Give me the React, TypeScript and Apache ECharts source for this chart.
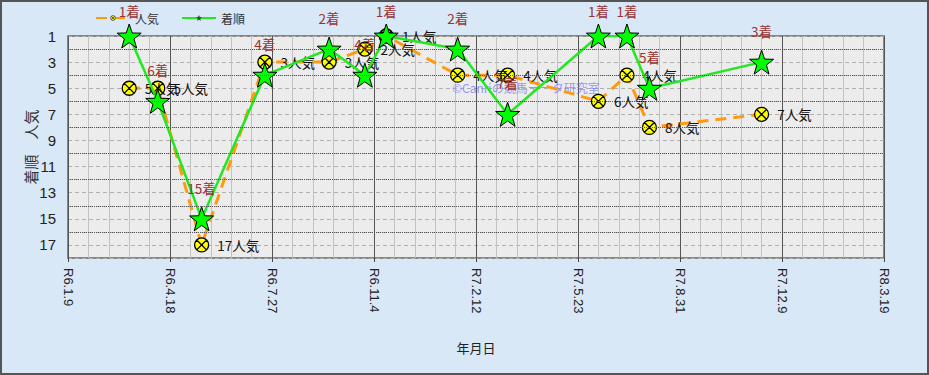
import React, { useEffect, useRef } from "react";
import * as echarts from "echarts";

// ---- data ----
const originDate = "2024-01-09";
const raceDates = [
  "2024-03-09", "2024-04-06", "2024-05-19", "2024-07-20", "2024-09-21",
  "2024-10-26", "2024-11-16", "2025-01-25", "2025-03-15", "2025-06-12",
  "2025-07-10", "2025-08-01", "2025-11-19",
];
const popularity = [5, 5, 17, 3, 3, 2, 1, 4, 4, 6, 4, 8, 7];
const finish = [1, 6, 15, 4, 2, 4, 1, 2, 7, 1, 1, 5, 3];
const xTickLabels = [
  "R6.1.9", "R6.4.18", "R6.7.27", "R6.11.4", "R7.2.12",
  "R7.5.23", "R7.8.31", "R7.12.9", "R8.3.19",
];
const majorHLines = [2, 4, 6, 8, 10, 12, 14, 16];

const JP = '"Noto Sans CJK JP", "Noto Sans", sans-serif';
const LAT = '"Liberation Sans", Arial, sans-serif';

const STAR =
  "path://M0,-10 L2.35,-3.24 L9.51,-3.09 L3.8,1.24 L5.88,8.09 L0,4 L-5.88,8.09 L-3.8,1.24 L-9.51,-3.09 L-2.35,-3.24 Z";
const CIRCLE_X =
  "path://M0,-10 A10,10 0 1,1 0,10 A10,10 0 1,1 0,-10 Z M-7,-7 L7,7 M7,-7 L-7,7";

const dayOf = (d: string) =>
  Math.round((Date.parse(d) - Date.parse(originDate)) / 86400000);

export default function App() {
  const ref = useRef<HTMLDivElement>(null);
  useEffect(() => {
    document.body.style.margin = "0";
    if (!ref.current) return;
    const chart = echarts.init(ref.current, undefined, { renderer: "svg" });
    const days = raceDates.map(dayOf);
    chart.setOption({
      animation: false,
      backgroundColor: "#d9e8f7",
      textStyle: { fontFamily: JP },
      graphic: [
        {
          type: "rect",
          shape: { x: 1, y: 1, width: 927, height: 373 },
          style: { fill: "none", stroke: "#555", lineWidth: 2 },
          silent: true,
          z: 100,
        },
        {
          type: "text",
          left: 452,
          top: 81,
          z: 1,
          silent: true,
          style: {
            text: "©Canriの競馬データ研究室",
            fill: "rgba(110,110,255,0.7)",
            font: `12px ${JP}`,
          },
        },
      ],
      legend: {
        left: 90,
        top: 7,
        itemWidth: 34,
        itemHeight: 6,
        itemGap: 22,
        textStyle: { fontSize: 12, color: "#333", fontFamily: JP },
        data: [
          {
            name: "人気",
            itemStyle: { color: "#ffff00", borderColor: "#444", borderWidth: 0.8 },
          },
          {
            name: "着順",
            itemStyle: { color: "#224422", borderColor: "#224422", borderWidth: 0.5 },
          },
        ],
      },
      grid: {
        left: 68,
        right: 45,
        top: 36,
        bottom: 117,
        show: true,
        backgroundColor: "#ececec",
        borderColor: "#666",
        borderWidth: 1.5,
      },
      xAxis: {
        type: "value",
        min: 0,
        max: 800,
        interval: 100,
        name: "年月日",
        nameLocation: "middle",
        nameGap: 83,
        nameMoveOverlap: false,
        nameTextStyle: { fontSize: 13, color: "#222", fontFamily: JP },
        axisLine: { show: false },
        axisTick: { show: true, length: 4, lineStyle: { color: "#444" } },
        axisLabel: {
          rotate: -90,
          margin: 10,
          fontSize: 13,
          color: "#222",
          fontFamily: LAT,
          formatter: (v: number) => xTickLabels[Math.round(v / 100)] ?? "",
        },
        splitLine: { show: true, lineStyle: { color: "#555", width: 1 } },
        minorTick: { show: false, splitNumber: 5 },
        minorSplitLine: { show: true, lineStyle: { color: "#c2c2c2", width: 1 } },
      },
      yAxis: {
        type: "value",
        inverse: true,
        min: 1,
        max: 18,
        interval: 1,
        name: "着順　人気",
        nameLocation: "middle",
        nameGap: 30,
        nameMoveOverlap: false,
        nameRotate: 90,
        nameTextStyle: { fontSize: 15, color: "#333", fontFamily: JP },
        axisLine: { show: false },
        axisTick: { show: false },
        axisLabel: {
          margin: 12,
          fontSize: 15,
          color: "#222",
          fontFamily: LAT,
          formatter: (v: number) => (v % 2 === 1 && v <= 17 ? String(v) : ""),
        },
        splitLine: {
          show: true,
          lineStyle: { color: "#b0b0b0", type: [4, 3], width: 1 },
        },
      },
      series: [
        {
          name: "人気",
          type: "line",
          z: 2,
          data: days.map((d, i) => [d, popularity[i]]),
          symbol: CIRCLE_X,
          symbolSize: 14,
          lineStyle: { color: "#ff9a10", width: 3, type: [11, 7] },
          itemStyle: { color: "#ffff00", borderColor: "#000", borderWidth: 1.3 },
          label: {
            show: true,
            position: "right",
            distance: 8,
            fontSize: 13.5,
            color: "#111",
            fontFamily: JP,
            formatter: (p: any) => `${p.value[1]}人気`,
          },
          markLine: {
            silent: true,
            symbol: ["none", "none"],
            label: { show: false },
            lineStyle: { color: "#555", type: "dotted", width: 1 },
            data: majorHLines.map((v) => ({ yAxis: v })),
          },
        },
        {
          name: "着順",
          type: "line",
          z: 3,
          data: days.map((d, i) => ({
            value: [d, finish[i]],
            label: { distance: finish[i] === 1 ? 6 : 12 },
          })),
          symbol: STAR,
          symbolSize: 24,
          lineStyle: { color: "#22e822", width: 2.5 },
          itemStyle: { color: "#00ff00", borderColor: "#000", borderWidth: 1 },
          label: {
            show: true,
            position: "top",
            fontSize: 13.5,
            color: "#993333",
            fontFamily: JP,
            formatter: (p: any) => `${p.value[1]}着`,
          },
        },
      ],
    });
    return () => chart.dispose();
  }, []);
  return <div ref={ref} style={{ width: 929, height: 375 }} />;
}
